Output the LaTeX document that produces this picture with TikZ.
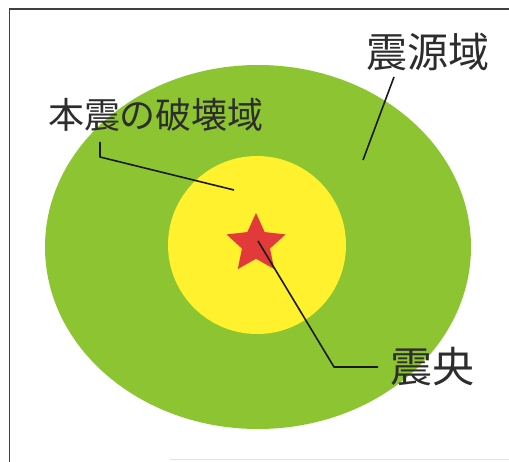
\documentclass[tikz,border=0pt]{standalone}
\usepackage{fontspec}
\newfontfamily\jpfont{Noto Sans CJK JP}
\usetikzlibrary{shapes.geometric}
\definecolor{zonegreen}{RGB}{141,197,50}
\definecolor{zoneyellow}{RGB}{255,241,45}
\definecolor{starred}{RGB}{226,58,58}
\definecolor{txtgray}{RGB}{45,45,45}
\tikzset{
  leader/.style={draw=black!90, line width=1.6pt, line join=round},
  label/.style={inner sep=0pt, text=txtgray, font=\jpfont},
  frameline/.style={draw=black!75, line width=1.5pt}
}
\begin{document}
\begin{tikzpicture}[x=1pt,y=-1pt]
\useasboundingbox (0,0) rectangle (509,462);
\fill[white] (0,0) rectangle (509,462);
% frame (only top and left edges visible)
\draw[frameline] (509,9) -- (9.5,9) -- (9.5,462);
\draw[draw=black!12, line width=1pt] (170,459) -- (509,459);
% zones
\node[ellipse, fill=zonegreen, minimum width=426pt, minimum height=364pt, inner sep=0pt] (src) at (258,247) {};
\node[circle, fill=zoneyellow, minimum size=178pt, inner sep=0pt] (rup) at (257,245) {};
\node[star, star points=5, star point ratio=2.1, fill=starred, minimum size=62pt, inner sep=0pt] (epi) at (256,244) {};
% labels
\node[label, font=\jpfont\fontsize{41}{41}\selectfont] (tsrc) at (428,52) {震源域};
\node[label, font=\jpfont\fontsize{36}{36}\selectfont] (trup) at (156,115) {本震の破壊域};
\node[label, font=\jpfont\fontsize{42}{42}\selectfont] (tepi) at (432,367) {震央};
% leader end points
\coordinate (s1) at (394,77);
\coordinate (s2) at (363,160);
\coordinate (r1) at (100,142);
\coordinate (r2) at (100,157);
\coordinate (r3) at (234,190);
\coordinate (e0) at (258,241);
\coordinate (e1) at (334,367);
\coordinate (e2) at (378,367);
\draw[leader] (s1) -- (s2);
\draw[leader] (r1) -- (r2) -- (r3);
\draw[leader] (e0) -- (e1) -- (e2);
\end{tikzpicture}
\end{document}
